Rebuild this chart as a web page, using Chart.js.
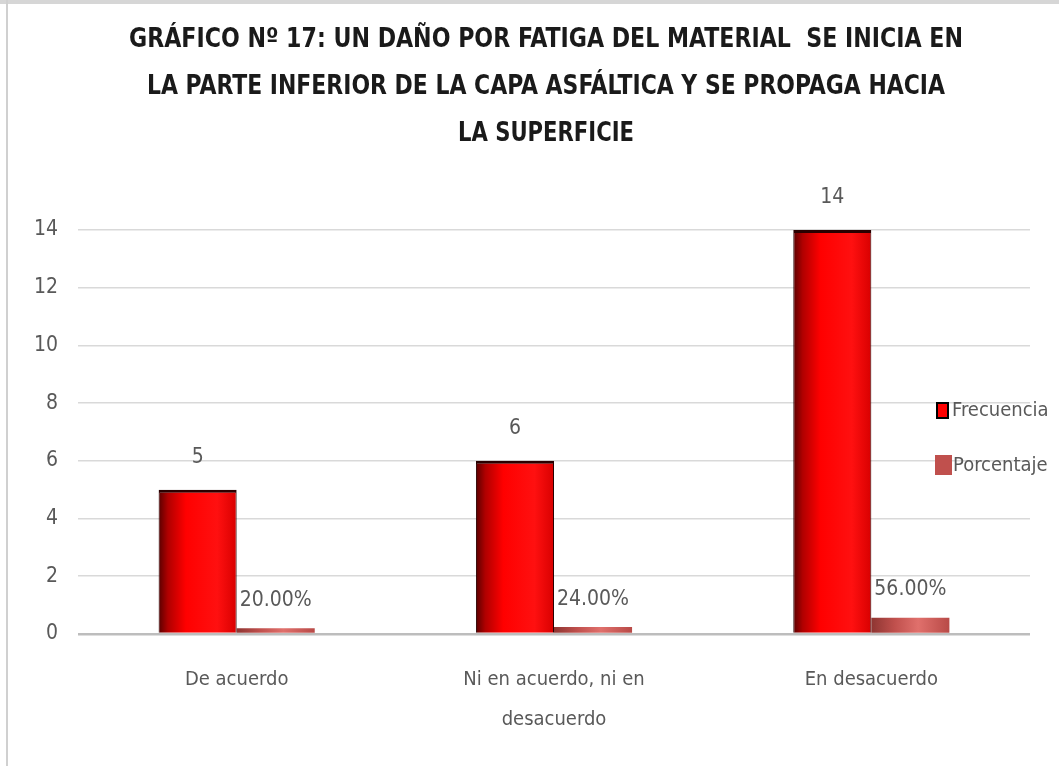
<!DOCTYPE html>
<html>
<head>
<meta charset="utf-8">
<script src="https://cdn.jsdelivr.net/npm/chart.js@4/dist/chart.umd.min.js"></script>
<style>
  html, body { margin: 0; padding: 0; background: #fff; }
  #wrap { position: relative; width: 1059px; height: 766px; overflow: hidden; }
  #frameTop { position: absolute; left: 0; top: 0; width: 1059px; height: 4px; background: #d6d6d6; }
  #frameLeft { position: absolute; left: 6px; top: 0; width: 2px; height: 766px; background: #d0d0d0; }
  canvas { position: absolute; left: 0; top: 0; }
</style>
</head>
<body>
<div id="wrap">
  <canvas id="c" width="1059" height="766"></canvas>
  <div id="frameTop"></div>
  <div id="frameLeft"></div>
</div>
<script>
// ---- data ----
const titleLines = [
  'GRÁFICO Nº 17: UN DAÑO POR FATIGA DEL MATERIAL  SE INICIA EN',
  'LA PARTE INFERIOR DE LA CAPA ASFÁLTICA Y SE PROPAGA HACIA',
  'LA SUPERFICIE'
];
const categories = ['De acuerdo', ['Ni en acuerdo, ni en', 'desacuerdo'], 'En desacuerdo'];
const seriesNames = ['Frecuencia', 'Porcentaje'];
const frecuencia = [5, 6, 14];
const porcentaje = [0.20, 0.24, 0.56];
const yMin = 0, yMax = 14, yStep = 2;

const FONT = '"Liberation Sans Narrow", "DejaVu Sans Condensed", "Liberation Sans", sans-serif';
const TXT = '#595959';

// title layout (positions/sizes, not data)
const titleY = [40, 87, 134];
const titleW = [834, 798, 176];
const titleCX = 546;

function frecGradient(ctx, el) {
  const l = el.x - el.width / 2, r = el.x + el.width / 2;
  const g = ctx.createLinearGradient(l, 0, r, 0);
  g.addColorStop(0, '#5a0000');
  g.addColorStop(0.12, '#b00000');
  g.addColorStop(0.35, '#ff0000');
  g.addColorStop(0.75, '#ff1010');
  g.addColorStop(1, '#d80000');
  return g;
}
function porcGradient(ctx, el) {
  const l = el.x - el.width / 2, r = el.x + el.width / 2;
  const g = ctx.createLinearGradient(l, 0, r, 0);
  g.addColorStop(0, '#8e3532');
  g.addColorStop(0.3, '#c0504d');
  g.addColorStop(0.6, '#e0706c');
  g.addColorStop(1, '#b84a47');
  return g;
}

const gradientPlugin = {
  id: 'grad',
  beforeDatasetsDraw(chart) {
    const ctx = chart.ctx;
    chart.data.datasets.forEach((ds, di) => {
      const meta = chart.getDatasetMeta(di);
      meta.data.forEach(el => {
        el.options.backgroundColor = di === 0 ? frecGradient(ctx, el) : porcGradient(ctx, el);
      });
    });
  }
};

const labelPlugin = {
  id: 'labels',
  afterDatasetsDraw(chart) {
    const ctx = chart.ctx;
    ctx.save();
    ctx.fillStyle = TXT;
    ctx.font = '21px ' + FONT;
    ctx.textAlign = 'center';
    ctx.textBaseline = 'middle';
    chart.data.datasets.forEach((ds, di) => {
      const meta = chart.getDatasetMeta(di);
      meta.data.forEach((el, i) => {
        const v = ds.data[i];
        const txt = di === 0 ? String(v) : (v * 100).toFixed(2) + '%';
        const off = di === 0 ? 32 : 28;
        ctx.fillText(txt, el.x, el.y - off);
      });
    });
    ctx.restore();
  }
};

const titlePlugin = {
  id: 'bigtitle',
  afterDraw(chart) {
    const ctx = chart.ctx;
    ctx.save();
    ctx.fillStyle = '#1a1a1a';
    ctx.font = 'bold 26px ' + FONT;
    ctx.textAlign = 'center';
    ctx.textBaseline = 'middle';
    titleLines.forEach((t, i) => {
      const w = ctx.measureText(t).width;
      const sx = titleW[i] / w;
      ctx.save();
      ctx.translate(titleCX, titleY[i]);
      ctx.scale(sx, 1);
      ctx.fillText(t, 0, 0);
      ctx.restore();
    });
    ctx.restore();
  }
};

const legendPlugin = {
  id: 'sideLegend',
  afterDraw(chart) {
    const ctx = chart.ctx;
    ctx.save();
    ctx.font = '20px ' + FONT;
    ctx.textBaseline = 'middle';
    ctx.textAlign = 'left';
    ctx.fillStyle = '#ff0000';
    ctx.fillRect(937, 403, 11, 15);
    ctx.strokeStyle = '#000';
    ctx.lineWidth = 2;
    ctx.strokeRect(937, 403, 11, 15);
    ctx.fillStyle = TXT;
    ctx.fillText(seriesNames[0], 952, 411);
    ctx.fillStyle = '#c0504d';
    ctx.fillRect(935, 455, 17, 20);
    ctx.fillStyle = TXT;
    ctx.fillText(seriesNames[1], 953, 466);
    ctx.restore();
  }
};

new Chart(document.getElementById('c'), {
  type: 'bar',
  data: {
    labels: categories,
    datasets: [
      {
        label: seriesNames[0],
        data: frecuencia,
        backgroundColor: frecuencia.map(() => '#ff0000'),
        borderColor: '#2a0000',
        borderWidth: { top: 3, left: 1, right: 1, bottom: 0 },
        borderSkipped: false,
        categoryPercentage: 0.492,
        barPercentage: 1
      },
      {
        label: seriesNames[1],
        data: porcentaje,
        backgroundColor: porcentaje.map(() => '#c0504d'),
        borderWidth: 0,
        categoryPercentage: 0.492,
        barPercentage: 1
      }
    ]
  },
  options: {
    responsive: false,
    animation: false,
    devicePixelRatio: 1,
    layout: { padding: { top: 230, left: 0, right: 29, bottom: 0 } },
    plugins: {
      legend: { display: false },
      title: { display: false },
      tooltip: { enabled: false }
    },
    scales: {
      x: {
        grid: { display: false },
        border: { display: false },
        ticks: {
          color: TXT,
          font: { family: FONT, size: 20, lineHeight: 2.0 },
          padding: 18,
          maxRotation: 0,
          autoSkip: false
        },
        afterFit(s) { s.height = 132; }
      },
      y: {
        min: yMin,
        max: yMax,
        border: { display: false },
        grid: {
          drawTicks: false,
          color: (c) => c.index === 0 ? '#bdbdbd' : '#d9d9d9',
          lineWidth: (c) => c.index === 0 ? 2.5 : 1.6
        },
        ticks: {
          stepSize: yStep,
          color: TXT,
          font: { family: FONT, size: 21 },
          padding: 20
        },
        afterFit(s) { s.width = 78; }
      }
    }
  },
  plugins: [gradientPlugin, labelPlugin, titlePlugin, legendPlugin]
});
</script>
</body>
</html>
